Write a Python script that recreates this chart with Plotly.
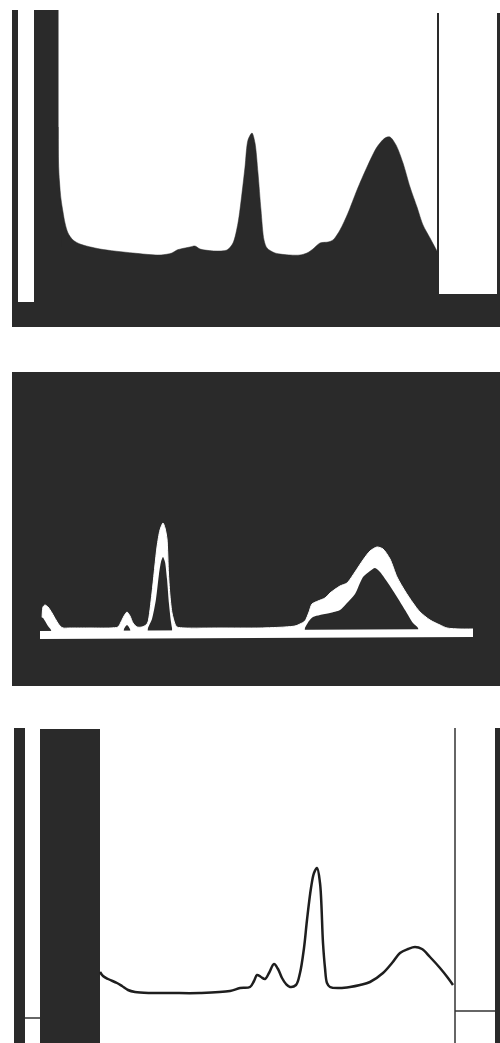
import plotly.graph_objects as go

W, H = 500, 1043
DARK = "#2a2a2a"

# ---------- Panel A (top): filled absorption silhouette ----------
a_block_x = [12, 12, 18, 18, 34, 34, 58.5, 58.5, 62, 62, None,
             437, 437, 439, 439, 497, 497, 500, 500]
a_block_y = [0, 317, 317, 25, 25, 317, 317, 160, 80, 0, None,
             0, 314, 314, 33, 33, 314, 314, 0]
a_x = [58.3, 58.5, 59.5, 61, 63, 65, 68, 73, 80, 100, 133, 160, 172, 177,
       190, 195, 200, 215, 227, 233, 238, 242, 245, 248, 252, 255, 258, 261, 264, 267, 275, 290,
       300, 307, 313, 320, 328, 333, 340, 348, 357, 367, 377, 385, 390, 396, 403, 410, 417, 423,
       430, 437.5]
a_y = [200, 165, 145, 128, 115, 104, 94, 87, 83, 78, 74, 72, 74, 77,
       80, 81, 78, 76, 77, 84, 104, 134, 160, 187, 194, 184, 154, 117, 87, 79, 74, 72,
       72, 74, 78, 84, 85, 87, 97, 114, 137, 160, 180, 189, 190, 182, 164, 140, 120, 102,
       89, 75]

# ---------- Panel B (middle): white trace on dark ground ----------
b_outer_x = [42, 43, 45, 48, 52, 56, 60, 63, 70, 90, 110, 118, 121, 124, 127, 130, 133, 137, 142,
             146, 148, 152, 157, 160, 163, 165, 167, 168.5, 170, 172, 175, 177, 185, 220, 260,
             285, 295, 300, 305, 309, 312, 318, 325, 330, 340, 347, 355, 363, 370, 377, 383,
             390, 397, 405, 413, 420, 430, 440, 447, 460, 473]
b_outer_y = [0, 27, 29, 27, 21, 14, 8, 6, 6, 6, 6, 7, 12, 18, 22, 18, 11, 7, 7,
             9, 12, 41, 87, 104, 111, 106, 95, 60, 38, 21, 10, 7, 6, 6, 6,
             7, 8, 10, 13, 22, 30, 33, 36, 41, 48, 51, 62, 74, 83, 87, 85,
             75, 57, 43, 31, 22, 14, 9, 6, 5, 5]
b_inner_x = [40, 43, 45, 48, 51, 52, 123, 124, 127, 130, 131, 147, 148, 152, 156, 159, 161, 163,
             165, 167, 169, 171, 172, 173, 304, 305, 309, 313, 320, 330, 340, 347, 355, 363,
             370, 375, 380, 390, 397, 405, 413, 418, 419, 473]
b_inner_y = [17, 16, 13, 8, 4, 0, 0, 5, 9, 5, 0, 0, 6, 15, 35, 60, 72, 77,
             72, 55, 30, 12, 6, 0, 0, 6, 13, 17, 19, 21, 24, 31, 40, 57,
             63, 66, 62, 48, 37, 24, 11, 6, 0, 0]
b_base_x = [40, 473]
b_base_y = [-1, 1]

# ---------- Panel C (bottom): line trace with bars ----------
c_bar_x = [14, 14, 25, 25, None, 40, 40, 100, 100, None, 495, 495, 500, 500]
c_bar_y = [0, 315, 315, 0, None, 0, 314, 314, 0, None, 0, 315, 315, 0]
c_mark_x = [25, 40, None, 455, 455, None, 455, 495]
c_mark_y = [25, 25, None, 0, 315, None, 32, 32]
c_x = [100, 103, 108, 117, 122, 128, 135, 150, 170, 200, 230, 240, 250, 254, 257, 261, 265,
       269, 274, 278, 282, 286, 290, 296, 300, 304, 307, 311, 314, 317, 320, 323, 325, 327,
       330, 340, 350, 360, 370, 383, 392, 400, 408, 415, 422, 430, 440, 448, 453]
c_y = [71, 67, 64, 60, 57, 53, 51, 50, 50, 50, 52, 55, 56, 62, 68, 66, 64,
       70, 79, 74, 65, 59, 56, 58, 70, 95, 123, 155, 170, 175, 160, 100, 75, 60,
       56, 55, 56, 58, 61, 70, 80, 90, 94, 96, 94, 86, 75, 65, 58]

fig = go.Figure()

# Panel A
fig.add_trace(go.Scatter(x=a_x, y=a_y, mode="lines", fill="tozeroy", line_shape="spline",
                         fillcolor=DARK, line=dict(width=0.5, color=DARK, smoothing=0.8),
                         xaxis="x", yaxis="y", hoverinfo="skip"))
fig.add_trace(go.Scatter(x=a_block_x, y=a_block_y, mode="lines", fill="toself",
                         fillcolor=DARK, line=dict(width=0, color=DARK),
                         xaxis="x", yaxis="y", hoverinfo="skip"))

# Panel B
fig.add_trace(go.Scatter(x=b_outer_x, y=b_outer_y, mode="lines", fill="tozeroy",
                         line_shape="spline",
                         fillcolor="white", line=dict(width=1, color="white", smoothing=0.7),
                         xaxis="x2", yaxis="y2", hoverinfo="skip"))
fig.add_trace(go.Scatter(x=b_inner_x, y=b_inner_y, mode="lines", fill="tozeroy",
                         line_shape="spline",
                         fillcolor=DARK, line=dict(width=0, color=DARK, smoothing=0.7),
                         xaxis="x2", yaxis="y2", hoverinfo="skip"))
fig.add_trace(go.Scatter(x=b_base_x, y=b_base_y, mode="lines",
                         line=dict(width=8, color="white"),
                         xaxis="x2", yaxis="y2", hoverinfo="skip"))

# Panel C
fig.add_trace(go.Scatter(x=c_bar_x, y=c_bar_y, mode="lines", fill="toself",
                         fillcolor=DARK, line=dict(width=0, color=DARK),
                         xaxis="x3", yaxis="y3", hoverinfo="skip"))
fig.add_trace(go.Scatter(x=c_mark_x, y=c_mark_y, mode="lines",
                         line=dict(width=1.5, color="#333333"),
                         xaxis="x3", yaxis="y3", hoverinfo="skip"))
fig.add_trace(go.Scatter(x=c_x, y=c_y, mode="lines", line_shape="spline",
                         line=dict(width=2.5, color="#1e1e1e"),
                         xaxis="x3", yaxis="y3", hoverinfo="skip"))

hidden = dict(visible=False, showgrid=False, zeroline=False, fixedrange=True)

fig.update_layout(
    width=W, height=H, margin=dict(l=0, r=0, t=0, b=0),
    paper_bgcolor="white", plot_bgcolor="rgba(0,0,0,0)", showlegend=False,
    xaxis=dict(hidden, domain=[0, 1], range=[0, 500], anchor="y"),
    yaxis=dict(hidden, domain=[1 - 327 / H, 1], range=[0, 327], anchor="x"),
    xaxis2=dict(hidden, domain=[12 / W, 1], range=[12, 500], anchor="y2"),
    yaxis2=dict(hidden, domain=[1 - 686 / H, 1 - 372 / H], range=[-52, 262], anchor="x2"),
    xaxis3=dict(hidden, domain=[0, 1], range=[0, 500], anchor="y3"),
    yaxis3=dict(hidden, domain=[0, 1 - 720 / H], range=[0, 323], anchor="x3"),
    shapes=[dict(type="rect", xref="x2 domain", yref="y2 domain", x0=0, x1=1, y0=0, y1=1,
                 fillcolor=DARK, line=dict(width=0), layer="below")],
)

fig.write_html("out.html")
